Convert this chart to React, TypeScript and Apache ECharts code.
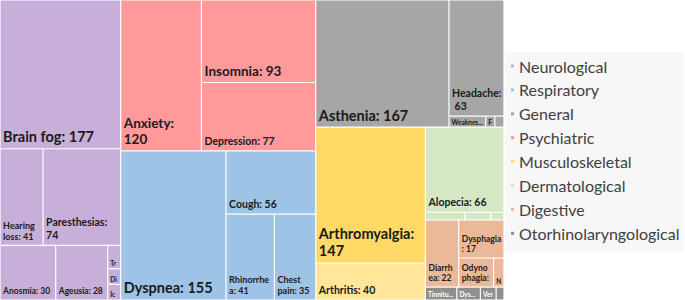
import React, { useEffect, useRef } from 'react';
import * as echarts from 'echarts';

// Legend order (as in the reference)
const categories = [
  'Neurological',
  'Respiratory',
  'General',
  'Psychiatric',
  'Musculoskeletal',
  'Dermatological',
  'Digestive',
  'Otorhinolaryngological',
];
const categoryColors = ['#C7AFD9', '#9DC3E6', '#A6A6A6', '#FF999A', '#FFD966', '#D4E9C3', '#EBB99A', '#8F8F8F'];

// Symptoms and counts per category
const neurologicalSymptoms = ['Brain fog', 'Hearing loss', 'Paresthesias', 'Anosmia', 'Ageusia', 'Tremor', 'Dizziness', 'Ictus'];
const neurologicalCounts = [177, 41, 74, 30, 28, 3, 2, 2];

const respiratorySymptoms = ['Dyspnea', 'Cough', 'Rhinorrhea', 'Chest pain'];
const respiratoryCounts = [155, 56, 41, 35];

const generalSymptoms = ['Asthenia', 'Headache', 'Weakness', 'Fever', 'Sweating'];
const generalCounts = [167, 63, 4, 1, 1];

const psychiatricSymptoms = ['Anxiety', 'Insomnia', 'Depression'];
const psychiatricCounts = [120, 93, 77];

const musculoskeletalSymptoms = ['Arthromyalgia', 'Arthritis'];
const musculoskeletalCounts = [147, 40];

const dermatologicalSymptoms = ['Alopecia', 'Skin rash', 'Pruritus', 'Urticaria'];
const dermatologicalCounts = [66, 3, 2, 1];

const digestiveSymptoms = ['Diarrhea', 'Dysphagia', 'Odynophagia', 'Nausea'];
const digestiveCounts = [22, 17, 10, 3];

const orlSymptoms = ['Tinnitus', 'Dysphonia', 'Vertigo', 'Otalgia'];
const orlCounts = [4, 3, 2, 1];

const groupSymptoms = [
  neurologicalSymptoms,
  respiratorySymptoms,
  generalSymptoms,
  psychiatricSymptoms,
  musculoskeletalSymptoms,
  dermatologicalSymptoms,
  digestiveSymptoms,
  orlSymptoms,
];
const groupCounts = [
  neurologicalCounts,
  respiratoryCounts,
  generalCounts,
  psychiatricCounts,
  musculoskeletalCounts,
  dermatologicalCounts,
  digestiveCounts,
  orlCounts,
];

// style overrides
const leafColorOverrides: Record<string, string> = { Arthritis: '#FFE699' };
const labelSizeOverrides: Record<string, number> = { Arthritis: 10.5 };

function labelStyleFor(name: string, v: number, white: boolean) {
  let fontSize = 6.5;
  if (v >= 140) fontSize = 14.5;
  else if (v >= 90) fontSize = 13.5;
  else if (v >= 50) fontSize = 10.5;
  else if (v >= 35) fontSize = 9;
  else if (v >= 8) fontSize = 8.5;
  if (labelSizeOverrides[name]) fontSize = labelSizeOverrides[name];
  const tiny = v < 8;
  return {
    fontSize,
    lineHeight: tiny ? 7 : Math.round(fontSize * 1.2),
    overflow: tiny ? 'truncate' : 'break',
    padding: tiny ? [1, 1, 1, 2] : [2, 1.5, 3, 2.5],
    color: white ? '#ffffff' : '#1a1a1a',
    ellipsis: '...',
  };
}

export default function App() {
  const ref = useRef<HTMLDivElement>(null);
  useEffect(() => {
    if (!ref.current) return;
    const chart = echarts.init(ref.current, undefined, { renderer: 'svg' });

    const groups = categories.map((cat, gi) => {
      const total = groupCounts[gi].reduce((a, b) => a + b, 0);
      const isOrl = gi === categories.length - 1;
      return {
        name: cat,
        value: total,
        itemStyle: { color: categoryColors[gi] },
        children: groupSymptoms[gi].map((s, i) => {
          const v = groupCounts[gi][i];
          const node: any = {
            name: s,
            value: v,
            label: labelStyleFor(s, v, isOrl),
          };
          if (leafColorOverrides[s]) node.itemStyle = { color: leafColorOverrides[s] };
          return node;
        }),
      };
    });
    groups.sort((a, b) => b.value - a.value);

    const legendSeries = categories.map((name, i) => ({
      type: 'graph',
      name,
      layout: 'none',
      data: [],
      links: [],
      itemStyle: { color: categoryColors[i] },
      silent: true,
    }));

    chart.setOption({
      animation: false,
      backgroundColor: '#ffffff',
      legend: {
        orient: 'vertical',
        left: 505,
        top: 52,
        data: categories,
        icon: 'rect',
        itemWidth: 3,
        itemHeight: 3,
        itemGap: 7.9,
        selectedMode: false,
        padding: [6, 4, 10, 6],
        backgroundColor: '#f7f7f7',
        textStyle: { fontFamily: 'Lato', fontSize: 16, color: '#404040' },
      },
      series: [
        {
          type: 'treemap',
          name: 'Symptoms',
          left: 0,
          top: 0,
          width: 504,
          height: 300,
          roam: false,
          nodeClick: false,
          breadcrumb: { show: false },
          sort: false,
          squareRatio: 0.8048,
          visibleMin: 0,
          silent: true,
          itemStyle: { borderWidth: 0, gapWidth: 0, borderColor: '#ffffff' },
          upperLabel: { show: false },
          label: {
            show: true,
            position: 'insideBottomLeft',
            formatter: '{b}: {c}',
            fontFamily: 'Lato',
            fontWeight: 'bold',
            distance: 0,
          },
          levels: [
            { itemStyle: { borderWidth: 0, gapWidth: 0 } },
            { itemStyle: { borderWidth: 0, gapWidth: 0 } },
            { itemStyle: { borderWidth: 0.6, borderColor: 'rgba(255,255,255,0.8)', gapWidth: 0 } },
          ],
          data: groups,
        },
        ...legendSeries,
      ],
    } as any);
    return () => chart.dispose();
  }, []);
  return <div ref={ref} style={{ position: 'fixed', left: 0, top: 0, width: 685, height: 300 }} />;
}
